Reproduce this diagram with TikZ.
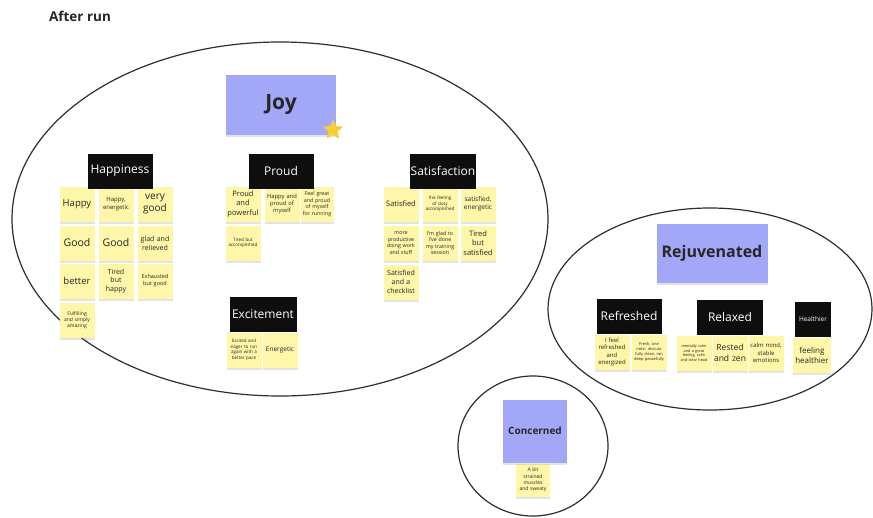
\documentclass[tikz,border=0pt]{standalone}
\usepackage{fontspec}
\setmainfont{Open Sans}
\usetikzlibrary{shapes.geometric,shadows}

\definecolor{stickyyellow}{HTML}{FEF6A8}
\definecolor{stickyblue}{HTML}{A3A7F7}
\definecolor{labelblack}{HTML}{0E0E0E}
\definecolor{staryellow}{HTML}{F8CE32}
\definecolor{ringgray}{HTML}{2E2E2E}

% no word breaks inside the small notes
\hyphenpenalty=10000
\exhyphenpenalty=10000

\newcommand\fsz[1]{\fontsize{#1}{1.25\dimexpr#1pt\relax}\selectfont}

\tikzset{
  softshadow/.style={drop shadow={shadow xshift=0pt,shadow yshift=-2pt,opacity=0.22}},
  note/.style={fill=stickyyellow, softshadow, minimum width=35pt, minimum height=35pt,
    inner sep=1pt, align=center, text width=33pt, text=black!85},
  tag/.style={fill=labelblack, text=white, minimum width=65pt, minimum height=35pt,
    inner sep=1pt, font=\fsz{12}},
  bignote/.style={fill=stickyblue, softshadow, align=center, inner sep=0pt,
    text=black!85, font=\bfseries},
  ring/.style={draw=ringgray, line width=1.2pt},
  title/.style={font=\bfseries\fsz{13.5}, text=black!85}
}

\begin{document}
\begin{tikzpicture}[x=1pt,y=-1pt]
\useasboundingbox (0,0) rectangle (873,517);
\fill[white] (0,0) rectangle (873,517);

% title
\node[title] (title) at (80,16) {After run};

% grouping rings
\draw[ring] (280,219) ellipse [x radius=268, y radius=177];
\draw[ring] (710,309) ellipse [x radius=162, y radius=101];
\draw[ring] (533,446) ellipse [x radius=75, y radius=70];

% ---------- Joy ----------
\node[bignote, minimum width=110pt, minimum height=60pt, font=\bfseries\fsz{21}] (joy) at (281,105) {Joy};
\node[star, star points=5, star point ratio=2.3, fill=staryellow, draw=staryellow,
  line join=round, line width=1.5pt, minimum size=18pt, inner sep=0pt] (joystar) at (333,130) {};

% Happiness
\node[note, font=\fsz{9.5}] (h1) at (77,204) {Happy};
\node[note, font=\fsz{6}] (h2) at (116,204) {Happy, energetic};
\node[note, font=\fsz{10}] (h3) at (155,204) {very good};
\node[note, font=\fsz{10.5}] (h4) at (77,243) {Good};
\node[note, font=\fsz{10.5}] (h5) at (116,243) {Good};
\node[note, font=\fsz{7}] (h6) at (155,243) {glad and relieved};
\node[note, font=\fsz{9.5}] (h7) at (77,281) {better};
\node[note, font=\fsz{7}] (h8) at (116,281) {Tired\\ but\\ happy};
\node[note, font=\fsz{5.5}] (h9) at (155,281) {Exhausted but good};
\node[note, font=\fsz{5}] (h10) at (77,320) {Fulfilling\\ and simply\\ amazing};
\node[tag] (happiness) at (120,171) {Happiness};

% Proud
\node[note, font=\fsz{7.5}] (p1) at (243,204) {Proud and powerful};
\node[note, font=\fsz{5.8}] (p2) at (282,204) {Happy and proud of myself};
\node[note, font=\fsz{5.3}, minimum width=32pt, text width=31pt] (p3) at (317,204) {Feel great and proud of myself for running};
\node[note, font=\fsz{4.5}] (p4) at (243,243) {Tired but accomplished};
\node[tag] (proud) at (281,171) {Proud};

% Satisfaction
\node[note, font=\fsz{7.5}] (s1) at (401,204) {Satisfied};
\node[note, font=\fsz{4.5}] (s2) at (440,204) {the feeling of duty accomplished};
\node[note, font=\fsz{6.5}] (s3) at (478,204) {satisfied, energetic};
\node[note, font=\fsz{5.3}] (s4) at (401,243) {more productive doing work and stuff};
\node[note, font=\fsz{5.3}] (s5) at (440,243) {I'm glad to I've done my training session};
\node[note, font=\fsz{7.5}] (s6) at (478,243) {Tired\\ but\\ satisfied};
\node[note, font=\fsz{7}] (s7) at (401,282) {Satisfied and a checklist};
\node[tag, minimum width=66pt] (satisfaction) at (443,171) {Satisfaction};

% Excitement
\node[note, font=\fsz{4.5}] (e1) at (244,350) {Excited and eager to run again with a better pace};
\node[note, font=\fsz{6.5}] (e2) at (280,350) {Energetic};
\node[tag, minimum width=67pt] (excitement) at (263,314) {Excitement};

% ---------- Rejuvenated ----------
\node[bignote, minimum width=111pt, minimum height=59pt, font=\bfseries\fsz{16}] (rejuvenated) at (712,253) {Rejuvenated};

% Refreshed
\node[note, font=\fsz{6}] (r1) at (612,352) {I feel refreshed and energized};
\node[note, font=\fsz{4}] (r2) at (649,352) {Fresh, one note: discuss fully clean, ran deep peacefully};
\node[tag] (refreshed) at (629,316) {Refreshed};

% Relaxed
\node[note, font=\fsz{3.8}] (x1) at (694,353) {mentally calm and a great feeling, calm and clear head};
\node[note, font=\fsz{8.5}] (x2) at (730,353) {Rested and zen};
\node[note, font=\fsz{6}] (x3) at (766,353) {calm mind,\\ stable\\ emotions};
\node[tag, minimum width=66pt] (relaxed) at (730,317) {Relaxed};

% Healthier
\node[note, font=\fsz{8}, minimum width=38pt, text width=36pt] (he1) at (812,355) {feeling healthier};
\node[tag, minimum width=36pt, font=\fsz{6.5}] (healthier) at (813,319) {Healthier};

% ---------- Concerned ----------
\node[note, font=\fsz{5}, minimum width=34pt, minimum height=33pt, text width=31pt] (c1) at (533,480) {A bit strained muscles and sweaty};
\node[bignote, minimum width=64pt, minimum height=63pt, font=\bfseries\fsz{10}] (concerned) at (535,431) {Concerned};
\end{tikzpicture}
\end{document}
